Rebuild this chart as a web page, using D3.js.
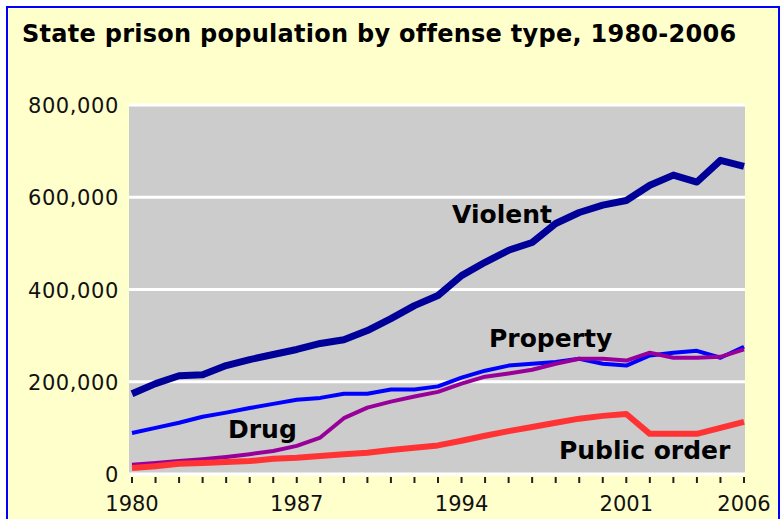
<!DOCTYPE html>
<html><head><meta charset="utf-8">
<script src="https://cdn.jsdelivr.net/npm/d3@7/dist/d3.min.js"></script>
<style>html,body{margin:0;padding:0;background:#fff;}svg{display:block;}</style>
</head><body>
<script>
const years = d3.range(1980, 2007);
const violent = [174000,196000,213000,215000,235000,248000,259000,270000,283000,291000,311000,337000,365000,387000,430000,459000,485000,502000,543000,567000,583000,593000,626000,648000,633000,680000,667000];
const property = [89000,100000,111000,124000,133000,143000,152000,161000,165000,174000,174000,183000,183000,190000,209000,224000,235000,239000,243000,250000,239000,235000,257000,263000,267000,252000,276000];
const drug = [20000,24000,28000,32000,37000,43000,50000,61000,79000,121000,144000,157000,168000,178000,196000,211000,218000,226000,239000,250000,250000,246000,263000,252000,252000,254000,270000];
const publicOrder = [13000,17000,22000,24000,26000,28000,33000,35000,39000,43000,46000,52000,57000,62000,72000,83000,93000,102000,111000,120000,126000,130000,87000,87000,87000,100000,113000];
const yTicks = [0,200000,400000,600000,800000];
const xTickLabels = [1980,1987,1994,2001,2006];
const title = "State prison population by offense type, 1980-2006";

const W = 782, H = 519;
const svg = d3.select("body").append("svg").attr("width", W).attr("height", H);

svg.append("rect").attr("x",7).attr("y",7).attr("width",772).attr("height",540)
  .attr("fill","#FFFFCC").attr("stroke","#0000FF").attr("stroke-width",2);

svg.append("text").attr("x",22).attr("y",42).text(title)
  .attr("font-family","DejaVu Sans").attr("font-weight","bold").attr("font-size",24)
  .attr("letter-spacing",0.27).attr("fill","#000");

const x = d3.scaleLinear().domain([1980,2006]).range([132,744]);
const y = d3.scaleLinear().domain([0,800000]).range([474,105]);

svg.append("rect").attr("x",129).attr("y",105).attr("width",616).attr("height",369).attr("fill","#CCCCCC");

svg.append("g").selectAll("line").data(yTicks).join("line")
  .attr("x1",129).attr("x2",745).attr("y1",d=>y(d)).attr("y2",d=>y(d))
  .attr("stroke","#fff").attr("stroke-width",3);

// y labels
svg.append("g").selectAll("text").data(yTicks).join("text")
  .attr("x",119).attr("y",d=>y(d)+8).attr("text-anchor","end")
  .attr("font-family","DejaVu Sans").attr("font-size",21).attr("letter-spacing",0.6).attr("fill","#111")
  .text(d=>d3.format(",")(d));

// x ticks
svg.append("g").selectAll("line").data(years).join("line")
  .attr("x1",d=>x(d)).attr("x2",d=>x(d)).attr("y1",477).attr("y2",483)
  .attr("stroke","#222").attr("stroke-width",2);
svg.append("g").selectAll("text").data(xTickLabels).join("text")
  .attr("x",d=>x(d)).attr("y",511).attr("text-anchor","middle")
  .attr("font-family","DejaVu Sans").attr("font-size",21).attr("fill","#111")
  .text(d=>d);

const line = d3.line().x((d,i)=>x(years[i])).y(d=>y(d));
const series = [
  {v: property, c:"#0000FF", w:4},
  {v: drug, c:"#990099", w:4},
  {v: publicOrder, c:"#FF3333", w:6},
  {v: violent, c:"#000099", w:7}
];
svg.append("g").selectAll("path").data(series).join("path")
  .attr("d",d=>line(d.v)).attr("fill","none").attr("stroke",d=>d.c)
  .attr("stroke-width",d=>d.w).attr("stroke-linejoin","round");

const labels = [
  {t:"Violent", x:452, y:223},
  {t:"Property", x:489, y:347},
  {t:"Drug", x:228, y:438},
  {t:"Public order", x:559, y:459}
];
svg.append("g").selectAll("text").data(labels).join("text")
  .attr("x",d=>d.x).attr("y",d=>d.y).text(d=>d.t)
  .attr("font-family","DejaVu Sans").attr("font-weight","bold").attr("font-size",25).attr("fill","#000");
</script>
</body></html>
